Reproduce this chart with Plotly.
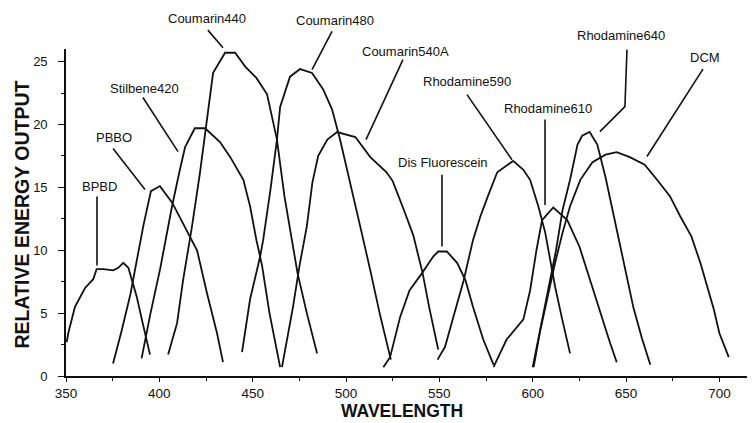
import plotly.graph_objects as go

# ---------------- data (wavelength nm, relative energy output) ----------------
bpbd_nm = [350.4, 351.2, 354.8, 360.2, 364.6, 366.4, 370, 375.3, 378, 380.7, 383.4, 387.9, 391.4, 395]
bpbd_val = [2.7, 3.4, 5.5, 7.0, 7.7, 8.5, 8.5, 8.4, 8.6, 9.0, 8.6, 6.3, 4.0, 1.7]

pbbo_nm = [375.2, 379.8, 384.5, 388, 391.5, 395.5, 400.3, 406.8, 414.8, 420.2, 425.5, 430.9, 434.1]
pbbo_val = [1.0, 3.6, 6.5, 9.3, 12.0, 14.7, 15.1, 13.8, 11.6, 10.0, 6.6, 3.4, 1.1]

stil_nm = [390.5, 395, 400.4, 406.8, 411, 413.8, 419, 424.5, 432.5, 438, 445, 448.6, 452, 455, 459, 464.7]
stil_val = [1.4, 4.8, 8.5, 13.5, 16.4, 18.2, 19.7, 19.7, 18.6, 17.4, 15.6, 13.5, 10.8, 8.8, 5.0, 0.7]

c440_nm = [404.7, 409.5, 412.7, 417.5, 421.8, 425.6, 428.8, 435.2, 440.6, 446, 452, 457.7, 460, 463, 467, 471, 474, 479, 484.5]
c440_val = [1.7, 4.2, 7.6, 11.9, 16.2, 20.4, 24.1, 25.7, 25.7, 24.6, 23.7, 22.4, 20.8, 18.8, 14.3, 10.8, 8.2, 5.0, 1.8]

c480_nm = [444.3, 448.6, 454, 455.6, 459.5, 463, 464.7, 470, 475.4, 481.8, 487.7, 492.5, 496.8, 502, 507.6, 513, 518, 524]
c480_val = [1.9, 6.1, 9.5, 10.8, 14.8, 18.8, 21.4, 23.8, 24.4, 24.1, 22.8, 21.2, 18.8, 15.6, 11.9, 8.4, 5.0, 1.3]

c540_nm = [465.7, 471.6, 475, 479, 482, 485.1, 490, 495.2, 505, 513, 521.7, 525, 531, 536, 541, 544.5, 549.4]
c540_val = [0.7, 5.5, 8.7, 11.9, 15.4, 17.5, 18.8, 19.4, 19.0, 17.4, 16.2, 15.5, 13.2, 11.2, 8.2, 5.5, 2.1]

disf_nm = [520, 523.6, 529, 534, 540.8, 546.7, 549.4, 554, 559.5, 564, 568, 573.5, 579]
disf_val = [0.7, 1.5, 4.7, 6.8, 8.2, 9.5, 9.9, 9.9, 9.0, 7.6, 5.5, 2.9, 0.9]

r590_nm = [549, 553, 557.5, 563, 568, 572, 576, 581, 589.5, 595, 598.6, 603, 606.7, 609.4, 612, 615.8, 620]
r590_val = [1.3, 2.3, 4.7, 7.6, 10.8, 12.7, 14.3, 16.2, 17.1, 16.4, 15.6, 13.5, 11.4, 9.2, 7.1, 4.5, 1.8]

r610_nm = [579, 586, 595, 598.6, 602, 605, 611, 618.5, 625, 630.8, 636, 641.5, 645]
r610_val = [0.7, 2.9, 4.5, 6.8, 10.0, 12.4, 13.4, 12.4, 10.3, 7.6, 5.0, 2.6, 1.1]

r640_nm = [600, 604, 608, 612.5, 616, 620, 624, 626.5, 630.5, 634.6, 639, 644, 649, 654, 658.5, 663]
r640_val = [0.7, 3.7, 6.8, 10.0, 13.2, 15.6, 18.4, 19.1, 19.4, 18.4, 15.8, 12.4, 8.8, 5.4, 3.0, 0.9]

dcm_nm = [600.5, 604, 608, 612, 616, 620, 625.5, 632, 639, 645, 652, 660, 666.6, 673.5, 679, 685, 689.8, 693.5, 697, 700, 705]
dcm_val = [0.7, 3.6, 6.3, 9.0, 11.4, 13.5, 15.6, 17.0, 17.6, 17.8, 17.4, 16.8, 15.6, 14.3, 12.7, 11.1, 9.0, 7.1, 5.3, 3.4, 1.5]

series = [
    ("BPBD", bpbd_nm, bpbd_val),
    ("PBBO", pbbo_nm, pbbo_val),
    ("Stilbene420", stil_nm, stil_val),
    ("Coumarin440", c440_nm, c440_val),
    ("Coumarin480", c480_nm, c480_val),
    ("Coumarin540A", c540_nm, c540_val),
    ("Dis Fluorescein", disf_nm, disf_val),
    ("Rhodamine590", r590_nm, r590_val),
    ("Rhodamine610", r610_nm, r610_val),
    ("Rhodamine640", r640_nm, r640_val),
    ("DCM", dcm_nm, dcm_val),
]

# label text positions (data coords) and leader polylines (data coords)
label_names = ["BPBD", "PBBO", "Stilbene420", "Coumarin440", "Coumarin480", "Coumarin540A",
               "Rhodamine590", "Dis Fluorescein", "Rhodamine610", "Rhodamine640", "DCM"]
label_x = [368.2, 375.7, 391.8, 425.5, 494.1, 532.1, 564.8, 551.9, 608.2, 647.3, 692.3]
label_y = [15.1, 19.0, 22.85, 28.4, 28.26, 25.8, 23.4, 17.0, 21.3, 27.1, 25.3]
leader_x = [[366.6, 366.6], [375.2, 392.3], [391.2, 410.0], [426.0, 434.1], [492.5, 481.8],
            [530.5, 510.7], [564.8, 588.9], [551.4, 551.4], [606.6, 606.6],
            [650.5, 649.4, 636.0], [691.2, 661.2]]
leader_y = [[14.27, 8.78], [18.08, 14.82], [22.14, 17.84], [27.5, 26.1], [27.4, 24.36],
            [25.16, 18.8], [22.37, 17.2], [16.0, 10.3], [20.4, 13.6],
            [25.95, 21.42, 19.43], [24.4, 17.45]]

x_range = [350, 718]
y_range = [0, 26]
x_ticks = [350, 400, 450, 500, 550, 600, 650, 700]
y_ticks = [0, 5, 10, 15, 20, 25]

FONT = "Liberation Sans, Arial, Helvetica, sans-serif"
INK = "#111111"

fig = go.Figure()
for name, xs, ys in series:
    fig.add_trace(go.Scatter(x=xs, y=ys, mode="lines", name=name,
                             line=dict(color=INK, width=1.8), hoverinfo="x+y+name"))


def to_paper(xv, yv):
    px = (xv - x_range[0]) / (x_range[1] - x_range[0])
    py = (yv - y_range[0]) / (y_range[1] - y_range[0])
    return px, py


# leader lines as paper-referenced paths (so they are not clipped above the axis)
shapes = []
for xs, ys in zip(leader_x, leader_y):
    pts = [to_paper(a, b) for a, b in zip(xs, ys)]
    path = "M " + " L ".join(f"{p[0]:.5f},{p[1]:.5f}" for p in pts)
    shapes.append(dict(type="path", xref="paper", yref="paper", path=path,
                       line=dict(color=INK, width=1.6)))

annotations = []
for t, lx, ly in zip(label_names, label_x, label_y):
    px, py = to_paper(lx, ly)
    annotations.append(dict(x=px, y=py, xref="paper", yref="paper", text=t, showarrow=False,
                            font=dict(family=FONT, size=13, color=INK),
                            xanchor="center", yanchor="middle"))

annotations.append(dict(x=-0.064, y=0.494, xref="paper", yref="paper",
                        text="<b>RELATIVE ENERGY OUTPUT</b>", textangle=-90, showarrow=False,
                        font=dict(family=FONT, size=19.5, color=INK),
                        xanchor="center", yanchor="middle"))
annotations.append(dict(x=0.489, y=-0.142, xref="paper", yref="paper",
                        text="<b>WAVELENGTH</b>", showarrow=False,
                        font=dict(family=FONT, size=17.5, color=INK),
                        xanchor="center", yanchor="bottom", borderpad=0))

# the page body has an 8px default margin, so the figure is 8px smaller
fig.update_layout(
    width=747, height=415,
    margin=dict(l=58, r=2, t=41, b=47),
    paper_bgcolor="white", plot_bgcolor="white",
    showlegend=False,
    shapes=shapes,
    annotations=annotations,
    font=dict(family=FONT, color=INK),
)
fig.update_xaxes(range=x_range, tickmode="array", tickvals=x_ticks,
                 ticktext=[str(v) for v in x_ticks],
                 showgrid=False, zeroline=False, showline=True, linecolor=INK, linewidth=1.6,
                 ticks="outside", ticklen=4, tickwidth=1.3, tickcolor=INK,
                 tickfont=dict(family=FONT, size=13.5, color=INK),
                 minor=dict(dtick=25, tick0=350, ticks="outside", ticklen=3, tickcolor=INK,
                            tickwidth=1, showgrid=False))
fig.update_yaxes(range=y_range, tickmode="array", tickvals=y_ticks,
                 ticktext=[str(v) for v in y_ticks],
                 showgrid=False, zeroline=False, showline=True, linecolor=INK, linewidth=1.6,
                 ticks="outside", ticklen=6, tickwidth=1.3, tickcolor=INK,
                 ticklabelstandoff=8,
                 tickfont=dict(family=FONT, size=13, color=INK),
                 minor=dict(dtick=2.5, tick0=0, ticks="outside", ticklen=3, tickcolor=INK,
                            tickwidth=1, showgrid=False))

fig.write_html("out.html")
